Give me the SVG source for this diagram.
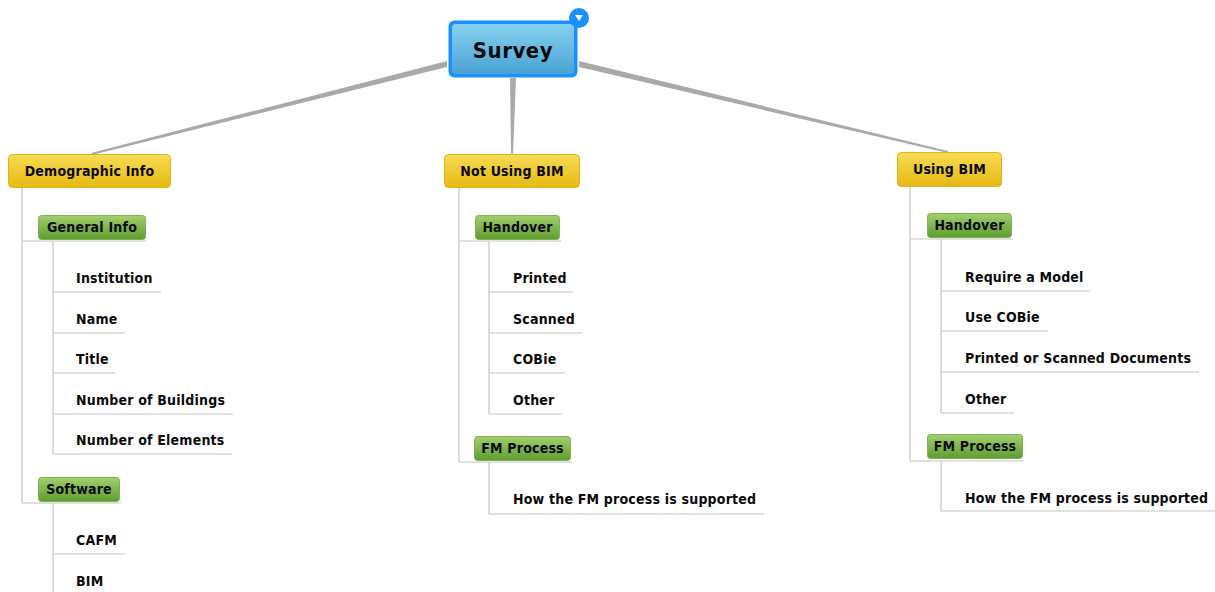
<svg xmlns="http://www.w3.org/2000/svg" width="1215" height="592" viewBox="0 0 1215 592">
<defs>
<linearGradient id="gy" x1="0" y1="0" x2="0" y2="1"><stop offset="0" stop-color="#f8dc55"/><stop offset="1" stop-color="#e5b912"/></linearGradient>
<linearGradient id="gg" x1="0" y1="0" x2="0" y2="1"><stop offset="0" stop-color="#a2cf6e"/><stop offset="1" stop-color="#5f9c30"/></linearGradient>
<linearGradient id="gb" x1="0" y1="0" x2="0" y2="1"><stop offset="0" stop-color="#86d0f0"/><stop offset="1" stop-color="#4aa3d3"/></linearGradient>
<style>
.t{font-family:"DejaVu Sans Condensed","DejaVu Sans",sans-serif;font-weight:bold;font-size:14px;letter-spacing:0.2px;fill:#0a0a0a}
.c{text-anchor:middle}
.s{font-size:22px;letter-spacing:0.5px}
.y{fill:url(#gy);stroke:#e2b21a;stroke-width:1}
.g{fill:url(#gg);stroke:#7db24c;stroke-width:1}
.l{stroke:#c4c4c4;stroke-width:1.2;fill:none}
.m{fill:#a9a9a9}
</style>
</defs>
<g id="connectors">
<polygon class="m" points="447,61 447,67 92,155 91,153"/>
<polygon class="m" points="510,78 516,78 513,154 511,154"/>
<polygon class="m" points="579,61 579,67 948,153 948,151"/>
<path class="l" d="M22,188V503M22,241H146M22,503H121M53,241V454M53,292H161M53,333H125M53,373H115M53,414H233M53,454H232M53,503V592M53,554H125"/>
<path class="l" d="M459,188V462M459,241H561M459,462H572M489,241V414M489,292H573M489,333H583M489,373H565M489,414H562M489,462V514H764"/>
<path class="l" d="M910,187V461M910,239H1013M910,461H1024M941,239V413M941,291H1090M941,331H1048M941,372H1199M941,413H1014M941,461V511H1215"/>
</g>
<g id="survey">
<rect x="448.5" y="20.5" width="129" height="57" rx="6" fill="#1a8fff"/>
<rect x="452" y="24" width="122" height="50" rx="4" fill="url(#gb)"/>
<circle cx="579" cy="18" r="10" fill="#1a8fff"/>
<polygon points="575,15 583,15 579,21" fill="#fff"/>
<text class="t c s" x="513" y="58">Survey</text>
</g>
<g id="demographic"><rect class="y" x="8.5" y="154.5" width="162" height="33" rx="4"/><text class="t c" x="89.5" y="176">Demographic Info</text></g>
<g id="general-info"><rect class="g" x="38.5" y="215.5" width="107" height="24" rx="3"/><text class="t c" x="92" y="232">General Info</text></g>
<g id="institution"><text class="t" x="76" y="283">Institution</text></g>
<g id="name"><text class="t" x="76" y="324">Name</text></g>
<g id="title"><text class="t" x="76" y="364">Title</text></g>
<g id="num-buildings"><text class="t" x="76" y="405">Number of Buildings</text></g>
<g id="num-elements"><text class="t" x="76" y="445">Number of Elements</text></g>
<g id="software"><rect class="g" x="38.5" y="477.5" width="81" height="24" rx="3"/><text class="t c" x="79" y="494">Software</text></g>
<g id="cafm"><text class="t" x="76" y="545">CAFM</text></g>
<g id="bim"><text class="t" x="76" y="586">BIM</text></g>
<g id="not-using"><rect class="y" x="444.5" y="154.5" width="135" height="33" rx="4"/><text class="t c" x="512" y="176">Not Using BIM</text></g>
<g id="handover1"><rect class="g" x="475.5" y="215.5" width="84" height="24" rx="3"/><text class="t c" x="517.5" y="232">Handover</text></g>
<g id="printed"><text class="t" x="513" y="283">Printed</text></g>
<g id="scanned"><text class="t" x="513" y="324">Scanned</text></g>
<g id="cobie"><text class="t" x="513" y="364">COBie</text></g>
<g id="other1"><text class="t" x="513" y="405">Other</text></g>
<g id="fm1"><rect class="g" x="474.5" y="436.5" width="96" height="24" rx="3"/><text class="t c" x="522.5" y="453">FM Process</text></g>
<g id="how1"><text class="t" x="513" y="504">How the FM process is supported</text></g>
<g id="using"><rect class="y" x="897.5" y="152.5" width="104" height="34" rx="4"/><text class="t c" x="949.5" y="174">Using BIM</text></g>
<g id="handover2"><rect class="g" x="927.5" y="213.5" width="84" height="24" rx="3"/><text class="t c" x="969.5" y="230">Handover</text></g>
<g id="require"><text class="t" x="965" y="282">Require a Model</text></g>
<g id="use-cobie"><text class="t" x="965" y="322">Use COBie</text></g>
<g id="printed-scanned"><text class="t" x="965" y="363">Printed or Scanned Documents</text></g>
<g id="other2"><text class="t" x="965" y="404">Other</text></g>
<g id="fm2"><rect class="g" x="927.5" y="434.5" width="95" height="24" rx="3"/><text class="t c" x="975" y="451">FM Process</text></g>
<g id="how2"><text class="t" x="965" y="503">How the FM process is supported</text></g>
</svg>
